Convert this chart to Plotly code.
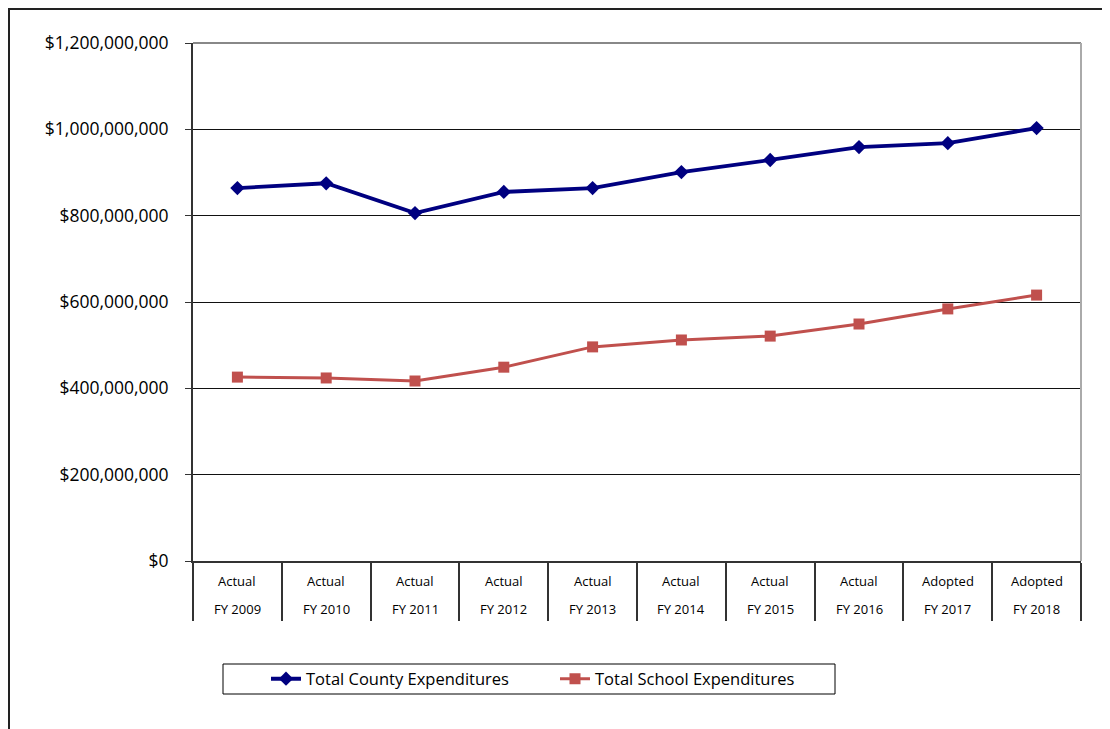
import plotly.graph_objects as go

categories = ["FY 2009", "FY 2010", "FY 2011", "FY 2012", "FY 2013",
              "FY 2014", "FY 2015", "FY 2016", "FY 2017", "FY 2018"]
status = ["Actual", "Actual", "Actual", "Actual", "Actual",
          "Actual", "Actual", "Actual", "Adopted", "Adopted"]
county = [864e6, 875e6, 806e6, 855e6, 864e6, 901e6, 929e6, 959e6, 968e6, 1003e6]
school = [426e6, 424e6, 417e6, 449e6, 496e6, 512e6, 521e6, 549e6, 584e6, 616e6]
y_ticks = [0, 200e6, 400e6, 600e6, 800e6, 1000e6, 1200e6]
y_tick_text = ["$" + format(int(v), ",") for v in y_ticks]

W, H = 1110, 729
OFF = 8  # page body margin
L, R, T, B = 193, 1081, 43, 561  # plot area in screenshot pixels
FONT = "Open Sans"


def px_x(p):
    return (p - L) / (R - L)


def px_y(p):
    return (B - p) / (B - T)


fig = go.Figure()
fig.add_trace(go.Scatter(
    x=categories, y=county, name="Total County Expenditures",
    mode="lines+markers",
    line=dict(color="#000080", width=3.8),
    marker=dict(symbol="diamond", size=11, color="#000080"),
))
fig.add_trace(go.Scatter(
    x=categories, y=school, name="Total School Expenditures",
    mode="lines+markers",
    line=dict(color="#C0504D", width=3),
    marker=dict(symbol="square", size=11, color="#C0504D"),
))

annotations = []
for c, s in zip(categories, status):
    annotations.append(dict(x=c, y=px_y(581), xref="x", yref="paper", text=s,
                            showarrow=False, yanchor="middle",
                            font=dict(family=FONT, size=13, color="#000")))
    annotations.append(dict(x=c, y=px_y(609), xref="x", yref="paper", text=c,
                            showarrow=False, yanchor="middle",
                            font=dict(family=FONT, size=13, color="#000")))

shapes = [
    dict(type="line", xref="paper", yref="paper", x0=0, x1=1, y0=1, y1=1,
         line=dict(color="#888888", width=2)),
    dict(type="line", xref="paper", yref="paper", x0=1, x1=1, y0=0, y1=1,
         line=dict(color="#aaaaaa", width=2)),
    dict(type="rect", xref="paper", yref="paper",
         x0=px_x(9), x1=px_x(1130), y0=px_y(9), y1=px_y(760),
         line=dict(color="#222222", width=2), layer="below"),
    dict(type="rect", xref="paper", yref="paper",
         x0=px_x(223), x1=px_x(835), y0=px_y(664), y1=px_y(694),
         line=dict(color="#000000", width=1)),
]

fig.update_layout(
    width=W, height=H,
    margin=dict(l=L - OFF, r=W - (R - OFF), t=T - OFF, b=H - (B - OFF), pad=0),
    paper_bgcolor="white", plot_bgcolor="white",
    font=dict(family=FONT, color="#000"),
    showlegend=True,
    legend=dict(orientation="h", x=px_x(266), y=px_y(679), xanchor="left",
                yanchor="middle", font=dict(family=FONT, size=16.5, color="#000"),
                bgcolor="rgba(0,0,0,0)", borderwidth=0,
                entrywidth=244, entrywidthmode="pixels"),
    annotations=annotations,
    shapes=shapes,
)
fig.update_xaxes(
    type="category", showgrid=False, showline=True, linecolor="#333333",
    linewidth=2, ticks="outside", tickson="boundaries", ticklen=58,
    tickcolor="#333333", tickwidth=2, showticklabels=False,
    range=[-0.5, len(categories) - 0.5],
)
fig.update_yaxes(
    range=[0, 1200e6], tickvals=y_ticks, ticktext=y_tick_text,
    showgrid=True, gridcolor="#111111", gridwidth=1,
    showline=True, linecolor="#333333", linewidth=2,
    ticks="outside", ticklen=6, tickcolor="#333333", tickwidth=1,
    tickfont=dict(family=FONT, size=17.5, color="#000"), ticklabelstandoff=13,
    zeroline=False,
)

fig.write_html("out.html")
